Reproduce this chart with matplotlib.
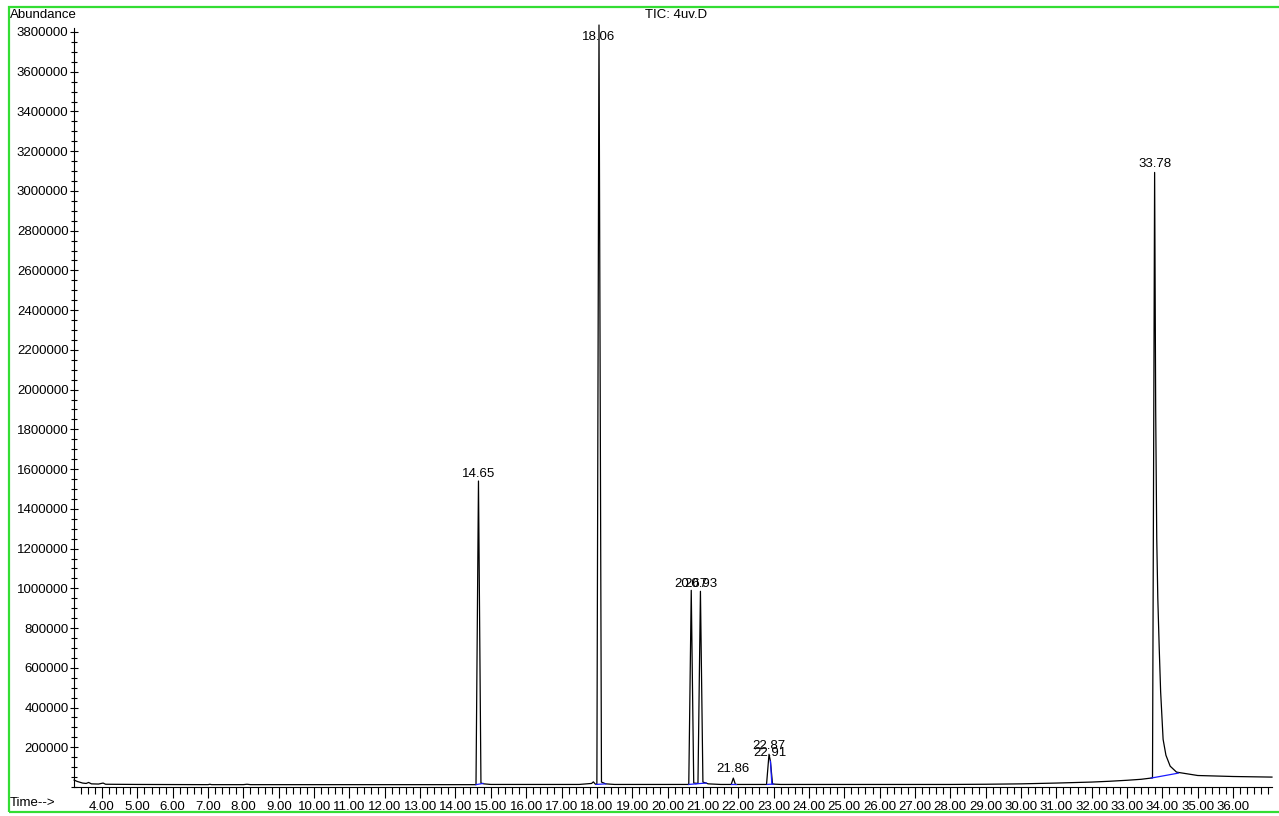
import matplotlib
matplotlib.use("Agg")
import matplotlib.pyplot as plt
from matplotlib.patches import Rectangle
from matplotlib.ticker import MultipleLocator, FormatStrFormatter

plt.rcParams['font.family'] = ['Liberation Sans', 'DejaVu Sans']

# chromatogram trace (time in min, abundance)
time = [3.21, 3.3, 3.45, 3.55, 3.62, 3.7, 3.9, 4.03, 4.1, 5.0, 7.0, 7.05, 7.1,
        8.0, 8.1, 8.2, 12.5, 14.58, 14.65, 14.72, 14.8, 15.0, 17.5, 17.85,
        17.9, 17.96, 18.0, 18.06, 18.13, 18.25, 18.5, 20.6, 20.67, 20.74,
        20.86, 20.93, 21.0, 21.15, 21.5, 21.8, 21.86, 21.92, 22.8, 22.87,
        22.91, 22.97, 23.2, 28.0, 29.0, 30.0, 31.0, 32.0, 32.5, 33.0, 33.4,
        33.72, 33.78, 33.81, 33.84, 33.87, 33.91, 33.95, 34.02, 34.1, 34.22,
        34.4, 35.0, 36.0, 37.1]
abundance = [35000, 28000, 20000, 18000, 23000, 16000, 15000, 20000, 14000,
             13000, 12000, 14000, 12000, 12000, 14000, 12000, 12000, 12000,
             1540000, 20000, 16000, 13000, 13000, 18000, 26000, 14000, 14000,
             3835000, 25000, 16000, 13000, 13000, 990000, 20000, 18000,
             985000, 25000, 16000, 13000, 13000, 45000, 13000, 13000, 165000,
             130000, 15000, 13000, 13000, 14000, 16000, 20000, 25000, 29000,
             34000, 39000, 46000, 3093000, 1900000, 1250000, 950000, 700000,
             480000, 240000, 160000, 105000, 75000, 58000, 53000, 50000]

# integration baselines (blue)
base_t = [(14.58, 14.78), (17.98, 18.25), (20.6, 20.8), (20.8, 21.1),
          (21.8, 21.95), (22.82, 23.0), (33.68, 34.45)]
base_a = [(12000, 18000), (13000, 16000), (13000, 16000), (16000, 20000),
          (13000, 13000), (13000, 15000), (45000, 70000)]

# peak labels
peak_rt = ["14.65", "18.06", "20.67", "20.93", "21.86", "22.87", "22.91", "33.78"]
peak_t = [14.65, 18.06, 20.67, 20.93, 21.86, 22.87, 22.91, 33.78]
label_y = [1575000, 3775000, 1020000, 1020000, 90000, 208000, 172000, 3135000]

fig = plt.figure(figsize=(12.79, 8.16), dpi=100)
ax = fig.add_axes([0.0579, 0.0355, 0.9366, 0.9302])

ax.plot(time, abundance, color='black', lw=0.9, clip_on=False)
for bt, ba in zip(base_t, base_a):
    ax.plot(bt, ba, color='#1a1aff', lw=0.9)
# blue right half of the 22.91 peak
ax.plot([22.91, 22.95], [130000, 15000], color='#1a1aff', lw=0.9)

for lab, t, y in zip(peak_rt, peak_t, label_y):
    ax.text(t, y, lab, ha='center', va='center', fontsize=9.5)

ax.set_xlim(3.208, 37.10)
ax.set_ylim(0, 3820000)

for s in ['top', 'right']:
    ax.spines[s].set_visible(False)
ax.spines['left'].set_linewidth(0.8)
ax.spines['bottom'].set_linewidth(0.8)

ax.set_xticks(range(4, 37))
ax.xaxis.set_minor_locator(MultipleLocator(0.2))
ax.xaxis.set_major_formatter(FormatStrFormatter('%.2f'))
ax.set_yticks(range(200000, 3800001, 200000))
ax.yaxis.set_major_formatter(FormatStrFormatter('%d'))
ax.yaxis.set_minor_locator(MultipleLocator(50000))
ax.tick_params(axis='x', which='major', direction='out', length=8, width=0.8,
               labelsize=9.5, pad=2)
ax.tick_params(axis='x', which='minor', direction='out', length=5, width=0.8)
ax.tick_params(axis='y', which='major', direction='inout', length=6, width=0.8,
               labelsize=9.5, pad=1)
ax.tick_params(axis='y', which='minor', direction='inout', length=4, width=0.8)

fig.text(10 / 1279, 1 - 15 / 816, "Abundance", fontsize=9.5, va='center')
fig.text(10 / 1279, 1 - 803 / 816, "Time-->", fontsize=9.5, va='center')
fig.text(676 / 1279, 1 - 15 / 816, "TIC: 4uv.D", fontsize=9.5, va='center',
         ha='center')

fig.patches.append(Rectangle((9 / 1279, 1 - 812 / 816), 1.0, 805 / 816,
                             transform=fig.transFigure, fill=False,
                             edgecolor='#33dd33', lw=1.6))

fig.savefig("out.png", dpi=100)
